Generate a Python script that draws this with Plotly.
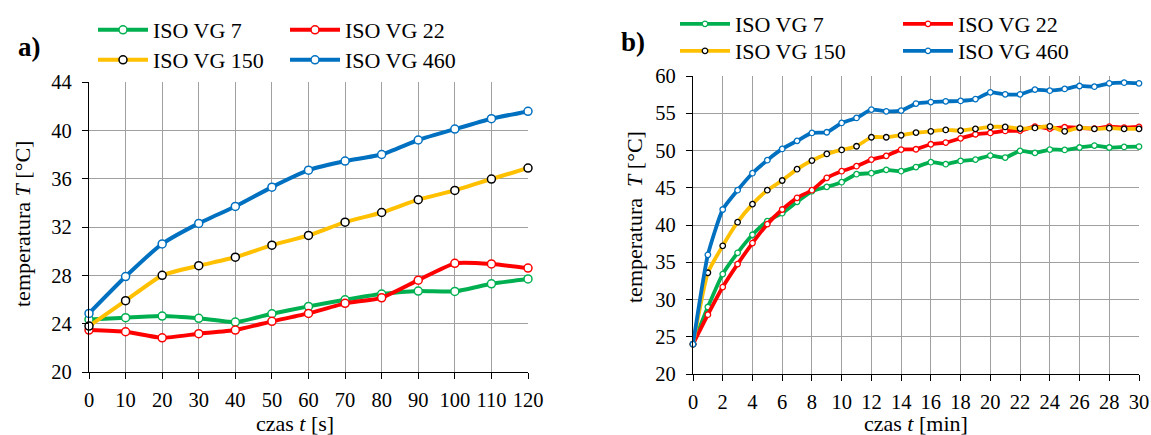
import plotly.graph_objects as go

W, H = 1151, 435

# ---------------- data ----------------
series_names = ["ISO VG 7", "ISO VG 22", "ISO VG 150", "ISO VG 460"]
series_colors = ["#00B050", "#FF0000", "#FFC000", "#0070C0"]
marker_edge = ["#00B050", "#FF0000", "#000000", "#0070C0"]

# panel a) time in seconds
t_s = [0, 10, 20, 30, 40, 50, 60, 70, 80, 90, 100, 110, 120]
a_vg7 = [24.35, 24.5, 24.63, 24.44, 24.13, 24.82, 25.43, 25.98, 26.45, 26.7, 26.67, 27.3, 27.7]
a_vg22 = [23.47, 23.33, 22.83, 23.17, 23.47, 24.19, 24.85, 25.68, 26.14, 27.6, 28.99, 28.94, 28.6]
a_vg150 = [23.8, 25.9, 28.0, 28.8, 29.5, 30.5, 31.3, 32.4, 33.2, 34.26, 35.03, 35.97, 36.88]
a_vg460 = [24.85, 27.9, 30.6, 32.3, 33.7, 35.3, 36.7, 37.46, 38.0, 39.2, 40.1, 40.96, 41.57]

# panel b) time in minutes
t_min = [0, 1, 2, 3, 4, 5, 6, 7, 8, 9, 10, 11, 12, 13, 14, 15,
         16, 17, 18, 19, 20, 21, 22, 23, 24, 25, 26, 27, 28, 29, 30]
b_vg7 = [24, 28.99, 33.41, 36.27, 38.69, 40.52, 41.59, 43.11, 44.54, 45.12, 45.75,
         46.82, 46.95, 47.4, 47.22, 47.78, 48.43, 48.16, 48.6, 48.78, 49.32,
         49.05, 49.95, 49.68, 50.13, 50.08, 50.4, 50.66, 50.4, 50.48, 50.53]
b_vg22 = [24, 27.96, 31.67, 34.75, 37.57, 40.12, 42.08, 43.65, 44.67, 46.33, 47.22,
          47.89, 48.78, 49.28, 50.13, 50.17, 50.84, 51.06, 51.64, 52.18, 52.36,
          52.63, 52.67, 53.2, 52.94, 53.12, 53.03, 52.94, 53.2, 53.07, 53.16]
b_vg150 = [24, 33.59, 37.21, 40.38, 42.8, 44.67, 45.97, 47.49, 48.65, 49.54, 50.08,
           50.57, 51.78, 51.78, 52.05, 52.4, 52.58, 52.76, 52.67, 52.9, 53.16,
           53.16, 52.94, 53.03, 53.25, 52.58, 53.07, 52.9, 52.99, 52.9, 52.9]
b_vg460 = [24, 36, 42.08, 44.67, 46.95, 48.7, 50.21, 51.29, 52.36, 52.45, 53.7,
           54.37, 55.49, 55.26, 55.35, 56.3, 56.5, 56.6, 56.65, 56.9, 57.81,
           57.54, 57.54, 58.17, 58.03, 58.26, 58.66, 58.57, 59.02, 59.1, 59.02]

a_series = [a_vg7, a_vg22, a_vg150, a_vg460]
b_series = [b_vg7, b_vg22, b_vg150, b_vg460]

FONT = "Liberation Serif"

# ---------------- figure ----------------
fig = go.Figure()

def px_x(px):
    return px / W

def px_y(py):
    return 1 - py / H

# legend positions (pixel left / row center) for each panel
leg_a = [(93, 30), (285, 30), (93, 60), (285, 60)]
leg_b = [(675, 24), (898, 24), (675, 51), (898, 51)]

def legend_cfg(lx, ly):
    return dict(x=px_x(lx), y=px_y(ly), xanchor="left", yanchor="middle",
                xref="paper", yref="paper",
                bgcolor="rgba(0,0,0,0)", borderwidth=0, itemwidth=50,
                font=dict(family=FONT, size=22, color="black"),
                tracegroupgap=0)

legends = {}
for i in range(4):
    key = "legend" if i == 0 else f"legend{i+1}"
    fig.add_trace(go.Scatter(
        x=t_s, y=a_series[i], name=series_names[i], mode="lines+markers",
        line=dict(color=series_colors[i], width=4, shape="spline", smoothing=0.5),
        marker=dict(symbol="circle", size=8, color="white",
                    line=dict(color=marker_edge[i], width=1.5)),
        xaxis="x", yaxis="y", cliponaxis=False,
        legend=key,
    ))
    legends[key] = legend_cfg(*leg_a[i])

for i in range(4):
    key = f"legend{i+5}"
    fig.add_trace(go.Scatter(
        x=t_min, y=b_series[i], name=series_names[i], mode="lines+markers",
        line=dict(color=series_colors[i], width=3.8, shape="spline", smoothing=0.5),
        marker=dict(symbol="circle", size=5.5, color="white",
                    line=dict(color=marker_edge[i], width=1.3)),
        xaxis="x2", yaxis="y2", cliponaxis=False,
        legend=key,
    ))
    legends[key] = legend_cfg(*leg_b[i])

grid_col = "#A0A0A0"
tickfont = dict(family=FONT, size=20.5, color="black")

common_x = dict(showgrid=True, gridcolor=grid_col, gridwidth=1,
                showline=True, linecolor="black", linewidth=1.2,
                ticks="outside", ticklen=6, tickcolor="black", tickwidth=1.2,
                tickfont=tickfont, zeroline=False, ticklabelstandoff=3,
                automargin=False)
common_y = dict(showgrid=True, gridcolor=grid_col, gridwidth=1,
                showline=True, linecolor="black", linewidth=1.2,
                ticks="outside", ticklen=6, tickcolor="black", tickwidth=1.2,
                tickfont=tickfont, zeroline=False, ticklabelstandoff=6,
                automargin=False)

fig.update_layout(
    width=W, height=H,
    margin=dict(l=0, r=0, t=0, b=0, autoexpand=False),
    paper_bgcolor="white", plot_bgcolor="white",
    font=dict(family=FONT, color="black"),
    showlegend=True,
    xaxis=dict(domain=[px_x(89), px_x(528)], range=[0, 120], tickmode="linear",
               tick0=0, dtick=10, anchor="y", **common_x),
    yaxis=dict(domain=[px_y(372), px_y(82)], range=[20, 44], tickmode="linear",
               tick0=20, dtick=4, anchor="x", **common_y),
    xaxis2=dict(domain=[px_x(693), px_x(1139)], range=[0, 30], tickmode="linear",
                tick0=0, dtick=2, anchor="y2", **common_x),
    yaxis2=dict(domain=[px_y(374), px_y(76)], range=[20, 60], tickmode="linear",
                tick0=20, dtick=5, anchor="x2", **common_y),
    **legends,
)

ann = [
    dict(text="<b>a)</b>", x=px_x(30), y=px_y(47), size=27, angle=0),
    dict(text="<b>b)</b>", x=px_x(633), y=px_y(42), size=27, angle=0),
    dict(text="czas <i>t</i> [s]", x=px_x(295), y=px_y(423), size=22, angle=0),
    dict(text="czas <i>t</i> [min]", x=px_x(916), y=px_y(423), size=22, angle=0),
    dict(text="temperatura <i>T</i> [°C]", x=px_x(22), y=px_y(224), size=22, angle=-90),
    dict(text="temperatura  <i>T</i> [°C]", x=px_x(634), y=px_y(217), size=22, angle=-90),
]
for a in ann:
    fig.add_annotation(text=a["text"], x=a["x"], y=a["y"], xref="paper", yref="paper",
                       xanchor="center", yanchor="middle", showarrow=False,
                       textangle=a["angle"],
                       font=dict(family=FONT, size=a["size"], color="black"))

fig.write_html("out.html")
